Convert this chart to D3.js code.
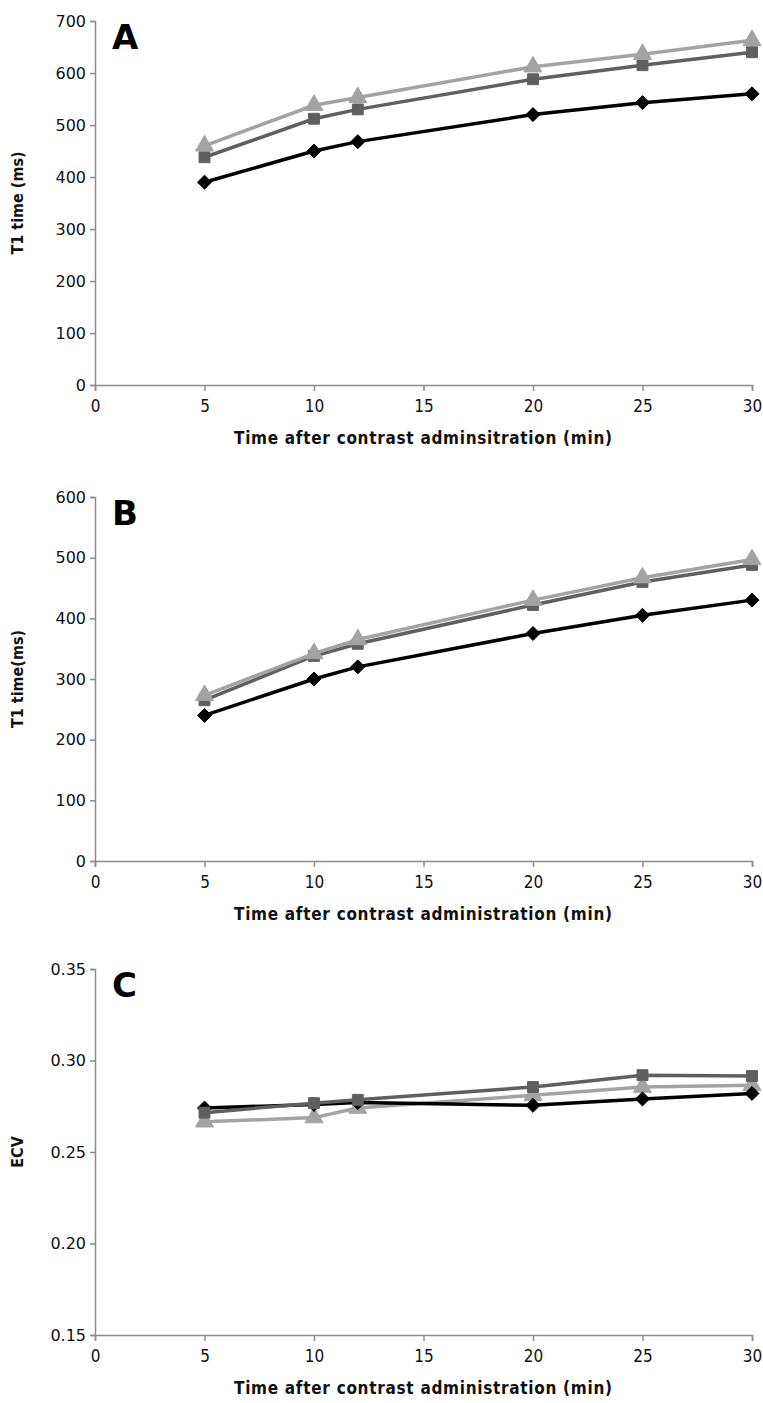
<!DOCTYPE html>
<html>
<head>
<meta charset="utf-8">
<script src="https://cdn.jsdelivr.net/npm/d3@7"></script>
<style>
  body { margin: 0; background: #fff; }
  svg { display: block; }
</style>
</head>
<body>
<div class="d3"></div>
<script>
  const times = [5, 10, 12, 20, 25, 30];
  const xTicks = [0, 5, 10, 15, 20, 25, 30];

  const aDiamond = [390, 450, 468, 520, 543, 560];
  const aSquare = [438, 512, 530, 588, 615, 640];
  const aTriangle = [460, 538, 553, 612, 636, 663];

  const bDiamond = [240, 300, 320, 375, 405, 430];
  const bSquare = [265, 338, 358, 422, 460, 488];
  const bTriangle = [273, 342, 365, 430, 467, 497];

  const cDiamond = [0.274, 0.276, 0.277, 0.2755, 0.279, 0.282];
  const cSquare = [0.2715, 0.2767, 0.2785, 0.2855, 0.292, 0.2915];
  const cTriangle = [0.2665, 0.2688, 0.274, 0.281, 0.2855, 0.2865];

  const aTicks = [0, 100, 200, 300, 400, 500, 600, 700];
  const bTicks = [0, 100, 200, 300, 400, 500, 600];
  const cTicks = [0.15, 0.20, 0.25, 0.30, 0.35];

  const width = 763;
  const height = 1403;

  const svg = d3.select('.d3')
    .append('svg')
    .attr('width', width)
    .attr('height', height);

  const panels = [
    { letter: 'A', top: 21, bottom: 385, domain: [0, 700], ticks: aTicks, fmt: d3.format('d'),
      ylabel: 'T1 time (ms)', xlabel: 'Time after contrast adminsitration  (min)',
      series: [aDiamond, aSquare, aTriangle] },
    { letter: 'B', top: 497, bottom: 861, domain: [0, 600], ticks: bTicks, fmt: d3.format('d'),
      ylabel: 'T1 time(ms)', xlabel: 'Time after contrast administration  (min)',
      series: [bDiamond, bSquare, bTriangle] },
    { letter: 'C', top: 969, bottom: 1335, domain: [0.15, 0.35], ticks: cTicks, fmt: d3.format('.2f'),
      ylabel: 'ECV', xlabel: 'Time after contrast administration  (min)',
      series: [cDiamond, cSquare, cTriangle] }
  ];

  const styles = [
    { color: '#000000', symbol: d3.symbolDiamond2, size: 125 },
    { color: '#5f5f5f', symbol: d3.symbolSquare2, size: 150 },
    { color: '#a3a3a3', symbol: d3.symbolTriangle, size: 140 }
  ];

  const x = d3.scaleLinear().domain([0, 30]).range([95, 752]);

  panels.forEach(p => {
    const y = d3.scaleLinear().domain(p.domain).range([p.bottom, p.top]);
    const g = svg.append('g');

    // axes
    const yAxis = g.append('g')
      .attr('transform', 'translate(95,0)')
      .call(d3.axisLeft(y).tickValues(p.ticks).tickFormat(p.fmt).tickSize(5).tickPadding(4));
    const xAxis = g.append('g')
      .attr('transform', `translate(0,${p.bottom})`)
      .call(d3.axisBottom(x).tickValues(xTicks).tickSize(6).tickPadding(9));

    [yAxis, xAxis].forEach(ax => {
      ax.select('.domain').attr('stroke', '#8c8c8c').attr('stroke-width', 1.5);
      ax.selectAll('.tick line').attr('stroke', '#8c8c8c').attr('stroke-width', 1.5);
      ax.selectAll('.tick text').attr('fill', '#111');
    });
    yAxis.selectAll('.tick text')
      .attr('font-family', 'DejaVu Sans, sans-serif')
      .attr('font-size', 16);
    xAxis.selectAll('.tick text')
      .attr('font-family', 'DejaVu Sans Condensed, DejaVu Sans, sans-serif')
      .attr('font-stretch', 'condensed')
      .attr('font-size', 17);

    // panel letter
    g.append('text')
      .attr('x', 112)
      .attr('y', p.top + 28)
      .attr('font-family', 'DejaVu Sans, sans-serif')
      .attr('font-weight', 'bold')
      .attr('font-size', 34)
      .attr('fill', '#000')
      .text(p.letter);

    // axis titles
    g.append('text')
      .attr('x', 423)
      .attr('y', p.bottom + 59)
      .attr('text-anchor', 'middle')
      .attr('font-family', 'DejaVu Sans Condensed, DejaVu Sans, sans-serif')
      .attr('font-stretch', 'condensed')
      .attr('font-weight', 'bold')
      .attr('font-size', 17)
      .attr('textLength', 378)
      .attr('lengthAdjust', 'spacing')
      .attr('fill', '#111')
      .text(p.xlabel);

    g.append('text')
      .attr('transform', `translate(23,${(p.top + p.bottom) / 2}) rotate(-90)`)
      .attr('text-anchor', 'middle')
      .attr('font-family', 'DejaVu Sans Condensed, DejaVu Sans, sans-serif')
      .attr('font-stretch', 'condensed')
      .attr('font-weight', 'bold')
      .attr('font-size', 16)
      .attr('fill', '#111')
      .text(p.ylabel);

    const line = d3.line()
      .x((d, i) => x(times[i]))
      .y(d => y(d));

    const order = p.letter === 'C' ? [2, 0, 1] : [0, 1, 2];
    order.forEach(k => {
      const vals = p.series[k];
      const st = styles[k];
      g.append('path')
        .datum(vals)
        .attr('fill', 'none')
        .attr('stroke', st.color)
        .attr('stroke-width', 3.5)
        .attr('stroke-linejoin', 'round')
        .attr('d', line);
      g.selectAll(null)
        .data(vals)
        .enter()
        .append('path')
        .attr('transform', (d, i) => `translate(${x(times[i])},${y(d)})`)
        .attr('d', d3.symbol().type(st.symbol).size(st.size))
        .attr('fill', st.color)
        .attr('stroke', st.color)
        .attr('stroke-width', 1);
    });
  });
</script>
</body>
</html>
